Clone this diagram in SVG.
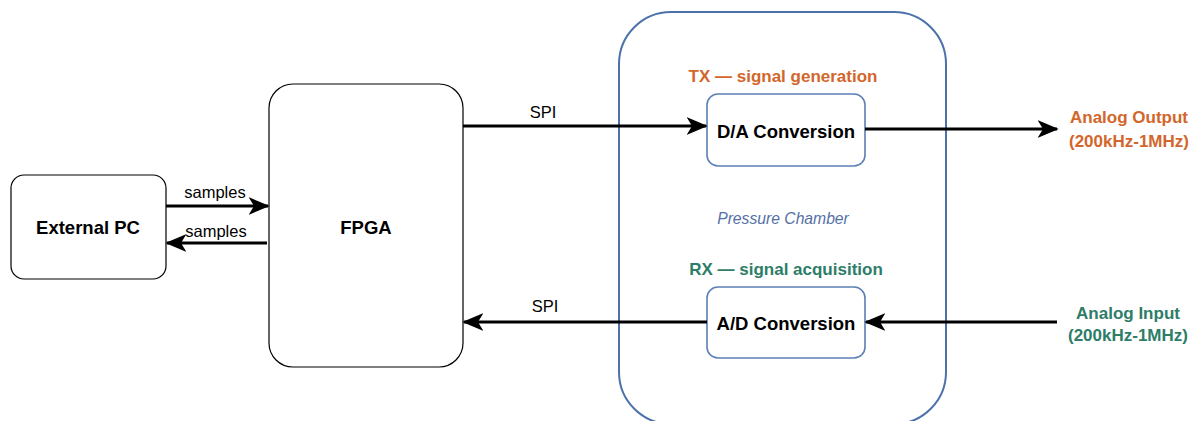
<svg xmlns="http://www.w3.org/2000/svg" width="1194" height="421" viewBox="0 0 1194 421">
<style>
.box{fill:#fff;stroke:#000;stroke-width:1.2}
.blue{fill:#fff;stroke:#5b7fb5;stroke-width:1.6}
.t{font-family:"Liberation Sans",Arial,sans-serif;text-anchor:middle;dominant-baseline:central}
.b{font-weight:bold;font-size:18.5px;fill:#000}
.lbl{font-size:16.5px;fill:#000}
.or{font-weight:bold;font-size:17px;fill:#d2662b}
.gr{font-weight:bold;font-size:17px;fill:#2d7d68}
.edge{stroke:#000;stroke-width:3;fill:none}
</style>
<defs>
<marker id="ah" viewBox="0 0 12 10" refX="11" refY="5" markerWidth="7" markerHeight="6" markerUnits="strokeWidth" orient="auto">
<path d="M0,0 L12,5 L0,10 L3,5 Z" fill="#000"/>
</marker>
</defs>
<rect width="1194" height="421" fill="#fff"/>
<g id="chamber">
<rect x="619" y="12" width="327" height="412" rx="52" ry="52" fill="#fff" stroke="#4d72aa" stroke-width="2"/>
<text class="t" x="783" y="218" font-style="italic" font-size="15.7" fill="#5470a6">Pressure Chamber</text>
<text class="t or" x="783" y="76">TX — signal generation</text>
<text class="t gr" x="786" y="269">RX — signal acquisition</text>
</g>
<g id="extpc">
<rect class="box" x="11" y="175" width="155" height="104" rx="13"/>
<text class="t b" x="88" y="227">External PC</text>
</g>
<g id="fpga">
<rect class="box" x="269" y="84" width="194" height="283" rx="24"/>
<text class="t b" x="366" y="227">FPGA</text>
</g>
<g id="dac">
<rect class="blue" x="707" y="94" width="158" height="72" rx="11"/>
<text class="t b" x="786" y="131">D/A Conversion</text>
</g>
<g id="adc">
<rect class="blue" x="707" y="287" width="158" height="71" rx="11"/>
<text class="t b" x="786" y="323">A/D Conversion</text>
</g>
<g id="aout">
<text class="t or" x="1129" y="117" font-size="16">Analog Output</text>
<text class="t or" x="1129" y="141" font-size="16">(200kHz-1MHz)</text>
</g>
<g id="ain">
<text class="t gr" x="1128" y="313" font-size="16">Analog Input</text>
<text class="t gr" x="1128" y="335" font-size="16">(200kHz-1MHz)</text>
</g>
<g id="connectors">
<line class="edge" x1="166" y1="206" x2="268" y2="206" marker-end="url(#ah)"/>
<line class="edge" x1="267" y1="243" x2="167" y2="243" marker-end="url(#ah)"/>
<line class="edge" x1="463" y1="126" x2="706" y2="126" marker-end="url(#ah)"/>
<line class="edge" x1="865" y1="129" x2="1057" y2="129" marker-end="url(#ah)"/>
<line class="edge" x1="1057" y1="322" x2="866" y2="322" marker-end="url(#ah)"/>
<line class="edge" x1="707" y1="322" x2="464" y2="322" marker-end="url(#ah)"/>
<text class="t lbl" x="215" y="192">samples</text>
<text class="t lbl" x="216" y="231">samples</text>
<text class="t lbl" x="543" y="112">SPI</text>
<text class="t lbl" x="545" y="306">SPI</text>
</g>
</svg>
